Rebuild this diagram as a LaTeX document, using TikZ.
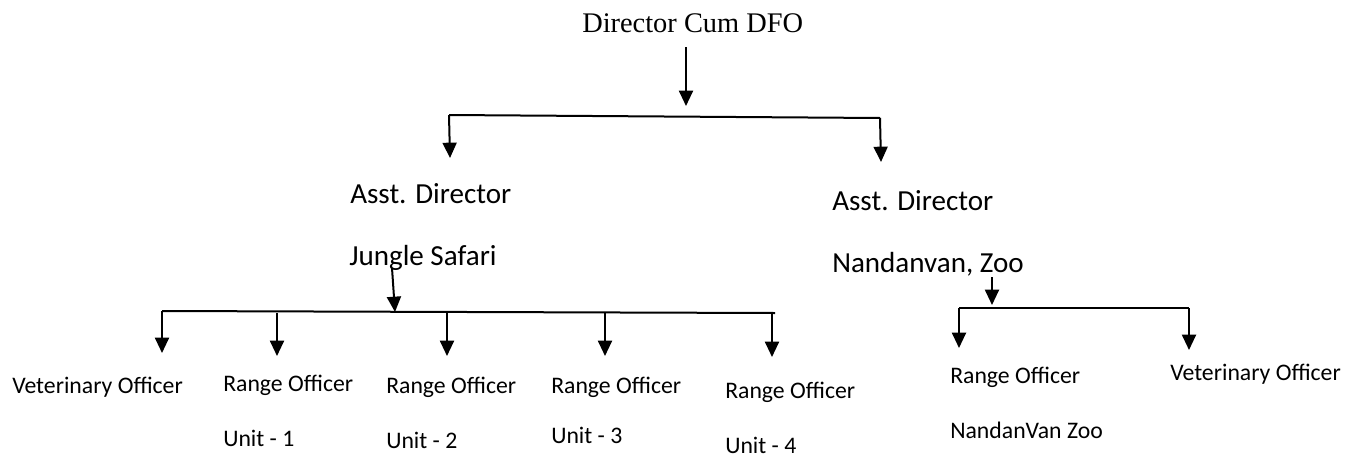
\documentclass[tikz,border=0pt]{standalone}
\usepackage{fontspec}
\setmainfont{Carlito}
\newfontfamily\titlefont{Liberation Serif}
\usetikzlibrary{arrows.meta}
\tikzset{
  lbl/.style={inner sep=0pt, anchor=base west, font=\fontsize{17.8}{20}\selectfont},
  mid/.style={inner sep=0pt, anchor=base west, font=\fontsize{21.8}{26}\selectfont},
  ttl/.style={inner sep=0pt, anchor=base west, font=\titlefont\fontsize{21.3}{25}\selectfont},
  conn/.style={line width=1.5pt, -{Triangle[width=10.5pt,length=11.5pt]}},
  bus/.style={line width=1.5pt}
}
\begin{document}
\begin{tikzpicture}[x=0.75pt,y=-0.75pt]
\useasboundingbox (0,0) rectangle (1360,457);
% texts
\node[ttl] (dir) at (582,32) {Director Cum DFO};
\node[mid] (adl) at (350,203) {Asst. Director};
\node[mid] (adl2) at (349,265) {Jungle Safari};
\node[mid] (adr) at (832,210) {Asst. Director};
\node[mid] (adr2) at (832,272) {Nandanvan, Zoo};
\node[lbl] (vl) at (12,393) {Veterinary Officer};
\node[lbl] (r1) at (223,391) {Range Officer};
\node[lbl] (u1) at (223,446) {Unit - 1};
\node[lbl] (r2) at (386,393) {Range Officer};
\node[lbl] (u2) at (386,448) {Unit - 2};
\node[lbl] (r3) at (551,393) {Range Officer};
\node[lbl] (u3) at (551,443) {Unit - 3};
\node[lbl] (r4) at (725,398) {Range Officer};
\node[lbl] (u4) at (725,453) {Unit - 4};
\node[lbl] (rz) at (950,383) {Range Officer};
\node[lbl] (rz2) at (950,438) {NandanVan Zoo};
\node[lbl] (vr) at (1170,380) {Veterinary Officer};
% coordinates
\coordinate (t0) at (686,47);
\coordinate (t1) at (686,106);
\coordinate (b1l) at (449,115);
\coordinate (b1r) at (880,118);
\coordinate (a1l) at (450,158);
\coordinate (a1r) at (881,162);
\coordinate (s0) at (392,268);
\coordinate (s1) at (395,312);
\coordinate (b2l) at (162,311);
\coordinate (b2r) at (775,313);
\coordinate (c1) at (277,313);
\coordinate (c2) at (447,313);
\coordinate (c3) at (605,313);
\coordinate (c4) at (772,313);
\coordinate (e0) at (162,353);
\coordinate (e1) at (277,356);
\coordinate (e2) at (447,356);
\coordinate (e3) at (605,356);
\coordinate (e4) at (772,357);
\coordinate (z0) at (992,277);
\coordinate (z1) at (992,305);
\coordinate (b3l) at (959,308);
\coordinate (b3r) at (1189,308);
\coordinate (f1) at (959,348);
\coordinate (f2) at (1189,350);
% connectors
\draw[conn] (t0) -- (t1);
\draw[bus] (b1l) -- (b1r);
\draw[conn] (b1l) -- (a1l);
\draw[conn] (b1r) -- (a1r);
\draw[conn] (s0) -- (s1);
\draw[bus] (b2l) -- (b2r);
\draw[conn] (b2l) -- (e0);
\draw[conn] (c1) -- (e1);
\draw[conn] (c2) -- (e2);
\draw[conn] (c3) -- (e3);
\draw[conn] (c4) -- (e4);
\draw[conn] (z0) -- (z1);
\draw[bus] (b3l) -- (b3r);
\draw[conn] (b3l) -- (f1);
\draw[conn] (b3r) -- (f2);
\end{tikzpicture}
\end{document}
